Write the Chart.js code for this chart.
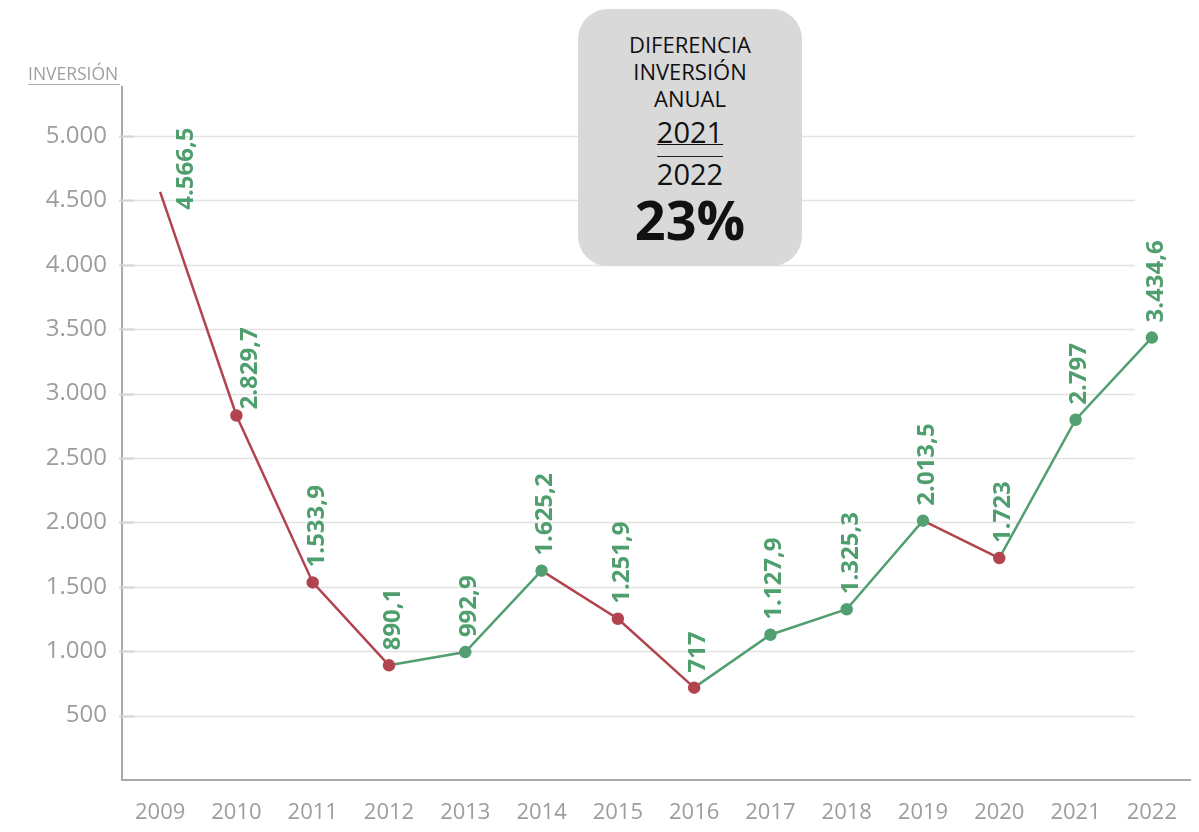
<!DOCTYPE html>
<html lang="es">
<head>
    <meta charset="UTF-8">
    <title>Inversión anual</title>
    <script src="https://cdn.jsdelivr.net/npm/chart.js"></script>
    <style>
        body {
            margin: 0;
            background: #fff;
            font-family: "Open Sans", sans-serif;
        }
        .wrap {
            position: relative;
            width: 1199px;
            height: 832px;
        }
        canvas {
            position: absolute;
            left: 0;
            top: 0;
        }
        .axis-title {
            position: absolute;
            left: 28px;
            top: 62px;
            font-size: 17.5px;
            color: #a0a0a0;
            border-bottom: 1.5px solid #b0b0b0;
            line-height: 22px;
            padding-right: 2px;
        }
        .box {
            position: absolute;
            left: 578px;
            top: 9px;
            width: 224px;
            height: 257px;
            background: #d9d9d9;
            border-radius: 30px;
            text-align: center;
            color: #111;
        }
        .box .head {
            font-size: 22px;
            line-height: 27px;
            margin-top: 22px;
        }
        .box .yr {
            font-size: 29px;
            line-height: 34px;
        }
        .box .yr.first {
            margin-top: 3px;
            text-decoration: underline;
            text-decoration-thickness: 1px;
            text-underline-offset: 1px;
        }
        .box .sep {
            width: 66px;
            height: 0;
            border-top: 1.5px solid #222;
            margin: 7px auto 0;
        }
        .box .pct {
            font-size: 54px;
            font-weight: bold;
            line-height: 58px;
            margin-top: -1px;
        }
    </style>
</head>
<body>
<div class="wrap">
    <canvas id="chart" width="1199" height="832"></canvas>
    <div class="axis-title">INVERSIÓN</div>
    <div class="box">
        <div class="head">DIFERENCIA<br>INVERSIÓN<br>ANUAL</div>
        <div class="yr first">2021</div>
        <div class="sep"></div>
        <div class="yr">2022</div>
        <div class="pct">23%</div>
    </div>
</div>

<script>
    // datos
    const years = ['2009', '2010', '2011', '2012', '2013', '2014', '2015',
                   '2016', '2017', '2018', '2019', '2020', '2021', '2022'];
    const inversion = [4566.5, 2829.7, 1533.9, 890.1, 992.9, 1625.2, 1251.9,
                       717, 1127.9, 1325.3, 2013.5, 1723, 2797, 3434.6];
    const yTicks = [500, 1000, 1500, 2000, 2500, 3000, 3500, 4000, 4500, 5000];

    const RED = '#b1444f';
    const GREEN = '#529f72';
    const LABEL_GREEN = '#4f9e6d';
    const GRID = '#e2e2e2';
    const AXIS = '#a9a9a9';
    const TXT = '#9f9d9a';

    const fmt = v => v.toLocaleString('de-DE', { maximumFractionDigits: 1 });

    const pointColors = inversion.map((v, i) => (i > 0 && v < inversion[i - 1]) ? RED : GREEN);
    const pointSizes = inversion.map((v, i) => i === 0 ? 0 : 5);

    // lineas horizontales que no llegan al borde derecho
    const gridPlugin = {
        id: 'gridLines',
        beforeDatasetsDraw(chart) {
            const { ctx, chartArea, scales } = chart;
            const end = chartArea.right - 55;
            ctx.save();
            yTicks.forEach(v => {
                const y = Math.round(scales.y.getPixelForValue(v)) + 0.5;
                ctx.strokeStyle = GRID;
                ctx.lineWidth = 1.5;
                ctx.beginPath();
                ctx.moveTo(chartArea.left, y);
                ctx.lineTo(end, y);
                ctx.stroke();
                ctx.strokeStyle = '#d4d4d4';
                ctx.lineWidth = 2;
                ctx.beginPath();
                ctx.moveTo(chartArea.left - 3, y);
                ctx.lineTo(chartArea.left + 12, y);
                ctx.stroke();
            });
            ctx.restore();
        }
    };

    // etiquetas verticales de valor
    const valueLabels = {
        id: 'valueLabels',
        afterDatasetsDraw(chart) {
            const { ctx } = chart;
            const meta = chart.getDatasetMeta(0);
            ctx.save();
            ctx.fillStyle = LABEL_GREEN;
            ctx.font = 'bold 24px "Open Sans"';
            ctx.textAlign = 'left';
            ctx.textBaseline = 'middle';
            meta.data.forEach((pt, i) => {
                let dx = 4, dy = -15;
                if (i === 0) { dx = 26; dy = 18; }
                if (i === 1) { dx = 14; dy = -6; }
                ctx.save();
                ctx.translate(pt.x + dx, pt.y + dy);
                ctx.rotate(-Math.PI / 2);
                ctx.fillText(fmt(inversion[i]), 0, 0);
                ctx.restore();
            });
            ctx.restore();
        }
    };

    new Chart(document.getElementById('chart'), {
        type: 'line',
        data: {
            labels: years,
            datasets: [{
                data: inversion,
                borderWidth: 2.5,
                pointRadius: pointSizes,
                pointHoverRadius: pointSizes,
                pointBackgroundColor: pointColors,
                pointBorderColor: pointColors,
                borderColor: GREEN,
                segment: {
                    borderColor: c => c.p1.parsed.y < c.p0.parsed.y ? RED : GREEN
                },
                tension: 0
            }]
        },
        options: {
            responsive: false,
            animation: false,
            layout: { padding: { top: 87, right: 9, bottom: 0, left: 0 } },
            plugins: {
                legend: { display: false },
                tooltip: { enabled: false }
            },
            scales: {
                x: {
                    offset: true,
                    grid: { display: false },
                    border: { display: true, color: AXIS, width: 2 },
                    ticks: {
                        color: TXT,
                        font: { family: 'Open Sans', size: 22 },
                        padding: 12,
                        maxRotation: 0
                    },
                    afterFit(scale) { scale.height = 52; }
                },
                y: {
                    min: 0,
                    max: 5380,
                    afterBuildTicks(scale) {
                        scale.ticks = yTicks.map(v => ({ value: v }));
                    },
                    grid: { display: true, drawOnChartArea: false, drawTicks: false },
                    border: { display: true, color: AXIS, width: 2 },
                    ticks: {
                        color: TXT,
                        font: { family: 'Open Sans', size: 24 },
                        padding: 15,
                        callback: v => fmt(v)
                    },
                    afterFit(scale) { scale.width = 122; }
                }
            }
        },
        plugins: [gridPlugin, valueLabels]
    });
</script>
</body>
</html>
